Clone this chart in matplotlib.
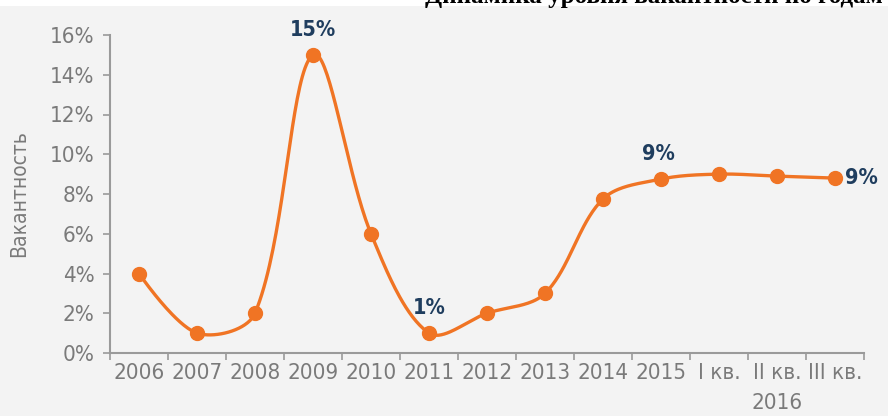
import matplotlib.pyplot as plt
import numpy as np
from matplotlib.patches import Rectangle

categories = ['2006', '2007', '2008', '2009', '2010', '2011', '2012', '2013',
              '2014', '2015', 'I кв.', 'II кв.', 'III кв.']
vacancy = [4.0, 1.0, 2.0, 15.0, 6.0, 1.0, 2.0, 3.0, 7.75, 8.75, 9.0, 8.9, 8.8]
# (index, label, dx, dy in points)
labels = [(3, '15%', 0, 11), (5, '1%', 0, 11), (9, '9%', -2, 11), (12, '9%', 19, 0)]

ORANGE = '#f07424'
NAVY = '#1f3d5e'
GRAY = '#7a7a7a'
BG = '#f3f3f3'
FONT = dict(family='DejaVu Sans', stretch='condensed')


def smooth(xs, ys, sx=58.0, sy=19.85, n=40):
    # bezier smoothing with chord-length scaled tangents (office style)
    p = np.column_stack([np.asarray(xs) * sx, np.asarray(ys) * sy]).astype(float)
    m = len(p)
    out = []
    for i in range(m - 1):
        p1, p2 = p[i], p[i + 1]
        p0 = p[i - 1] if i > 0 else p1
        p3 = p[i + 2] if i + 2 < m else p2
        d01 = np.linalg.norm(p1 - p0)
        d12 = np.linalg.norm(p2 - p1)
        d23 = np.linalg.norm(p3 - p2)
        c1 = p1 + (p2 - p0) / 3 * (d12 / (d01 + d12)) if d01 > 0 else p1
        c2 = p2 - (p3 - p1) / 3 * (d12 / (d12 + d23)) if d23 > 0 else p2
        t = np.linspace(0, 1, n)[:, None]
        seg = ((1 - t) ** 3 * p1 + 3 * (1 - t) ** 2 * t * c1 +
               3 * (1 - t) * t ** 2 * c2 + t ** 3 * p2)
        out.append(seg)
    out = np.vstack(out)
    return out[:, 0] / sx, out[:, 1] / sy


fig = plt.figure(figsize=(8.88, 4.16), dpi=100, facecolor=BG)
fig.patches.append(Rectangle((0, 1 - 6 / 416), 1, 6 / 416, transform=fig.transFigure,
                             facecolor='white', edgecolor='none', zorder=0))
# title of the page, mostly cut off by the top edge
fig.text(425 / 888, 1 - 2.5 / 416, 'Динамика уровня вакантности по годам',
         family='Liberation Serif', weight='bold', fontsize=18, va='baseline')

ax = fig.add_axes([110 / 888, 1 - 353 / 416, 754 / 888, 318 / 416])
ax.set_facecolor(BG)

x = np.arange(len(categories))
sx, sy = smooth(x, vacancy)
ax.plot(sx, sy, color=ORANGE, lw=2.4, solid_capstyle='round', zorder=2)
ax.plot(x, vacancy, 'o', color=ORANGE, ms=10, zorder=3)

for i, txt, dx, dy in labels:
    ax.annotate(txt, (x[i], vacancy[i]), xytext=(dx, dy), textcoords='offset points',
                ha='center', va='bottom' if dy else 'center', color=NAVY,
                fontsize=15.5, weight='bold', **FONT)

ax.set_xlim(-0.5, len(categories) - 0.5)
ax.set_ylim(0, 16)
ax.set_yticks(np.arange(0, 17, 2))
ax.set_yticklabels([f'{v}%' for v in range(0, 17, 2)])
ax.set_xticks(x)
ax.set_xticklabels(categories)
ax.set_xticks(np.arange(-0.5, len(categories)), minor=True)
ax.tick_params(axis='x', which='major', length=0, pad=7)
ax.tick_params(axis='x', which='minor', length=5, color='#9a9a9a', width=1.2)
ax.tick_params(axis='y', length=5, color='#9a9a9a', width=1.2, pad=6)
for lab in ax.get_xticklabels() + ax.get_yticklabels():
    lab.set_family(FONT['family'])
    lab.set_stretch(FONT['stretch'])
    lab.set_fontsize(16)
    lab.set_color(GRAY)
ax.annotate('2016', (11, 0), xycoords=('data', 'axes fraction'), xytext=(0, -29),
            textcoords='offset points', ha='center', va='top',
            fontsize=16, color=GRAY, **FONT)

for s in ['top', 'right']:
    ax.spines[s].set_visible(False)
for s in ['left', 'bottom']:
    ax.spines[s].set_color('#9a9a9a')
    ax.spines[s].set_linewidth(1.5)

ax.set_ylabel('Вакантность', fontsize=15, color=GRAY, **FONT)
ax.yaxis.set_label_coords(-0.107, 0.5)

fig.savefig('out.png', dpi=100, facecolor=fig.get_facecolor())
